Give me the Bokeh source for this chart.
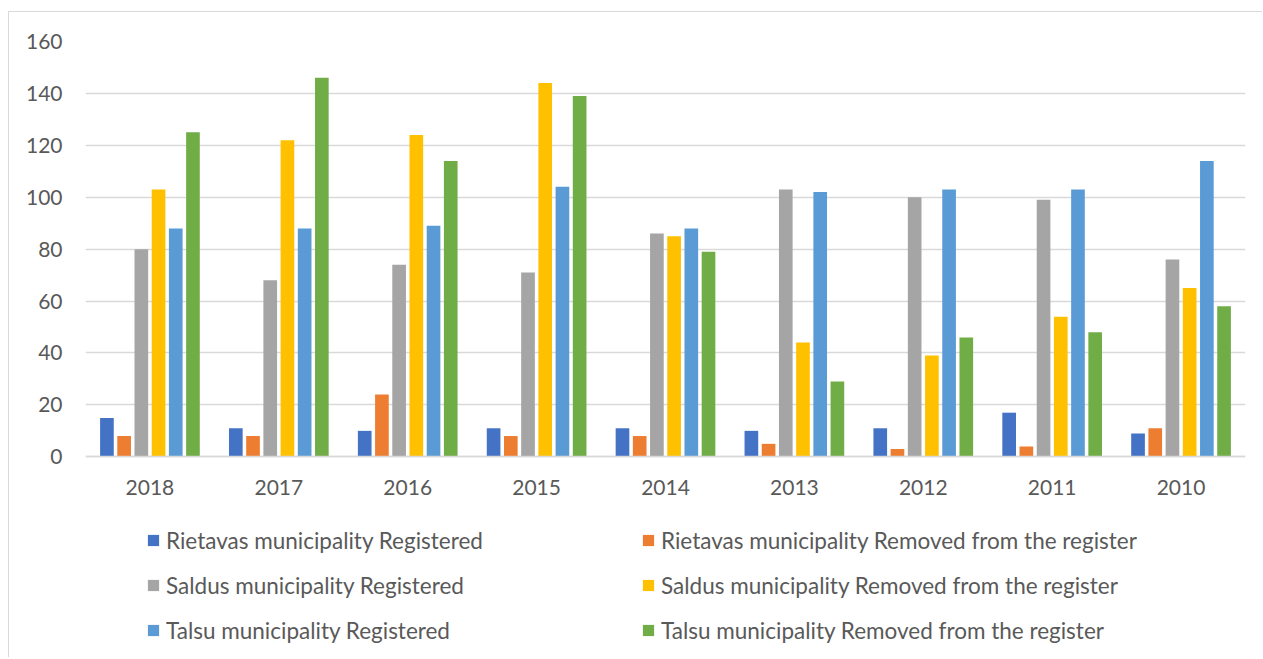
from bokeh.plotting import figure
from bokeh.models import ColumnDataSource, FactorRange, Legend, LegendItem, FixedTicker, Range1d
from bokeh.transform import dodge
from bokeh.embed import file_html
from bokeh.resources import INLINE

years = ["2018", "2017", "2016", "2015", "2014", "2013", "2012", "2011", "2010"]
rietavas_registered = [15, 11, 10, 11, 11, 10, 11, 17, 9]
rietavas_removed = [8, 8, 24, 8, 8, 5, 3, 4, 11]
saldus_registered = [80, 68, 74, 71, 86, 103, 100, 99, 76]
saldus_removed = [103, 122, 124, 144, 85, 44, 39, 54, 65]
talsu_registered = [88, 88, 89, 104, 88, 102, 103, 103, 114]
talsu_removed = [125, 146, 114, 139, 79, 29, 46, 48, 58]

series_names = [
    "Rietavas municipality Registered",
    "Rietavas municipality Removed from the register",
    "Saldus municipality Registered",
    "Saldus municipality Removed from the register",
    "Talsu municipality Registered",
    "Talsu municipality Removed from the register",
]
series_values = [rietavas_registered, rietavas_removed, saldus_registered,
                 saldus_removed, talsu_registered, talsu_removed]
colors = ["#4472C4", "#ED7D31", "#A5A5A5", "#FFC000", "#5B9BD5", "#70AD47"]
y_ticks = [0, 20, 40, 60, 80, 100, 120, 140, 160]

data = {"year": years}
for i, vals in enumerate(series_values):
    data[f"s{i}"] = vals
source = ColumnDataSource(data)

FONT = "Lato"
TXT = "#595959"
GRID = "#d9d9d9"

Y_BOTTOM = -77.7  # extra room below zero (layout only) for the legend

p = figure(x_range=FactorRange(*years), y_range=Range1d(Y_BOTTOM, 160),
           width=1254, height=646, output_backend="svg", toolbar_location=None,
           min_border_left=76, min_border_right=18, min_border_top=29, min_border_bottom=0)
p.margin = (11, 0, 0, 8)
p.styles = {"border-top": "1px solid #d9d9d9", "border-left": "1px solid #d9d9d9"}
p.outline_line_color = None
p.background_fill_color = "white"
p.border_fill_color = "white"

pitch = 0.1335
renderers = []
for i in range(6):
    r = p.vbar(x=dodge("year", (i - 2.5) * pitch, range=p.x_range), top=f"s{i}", width=0.106,
               source=source, fill_color=colors[i], line_color=None)
    renderers.append(r)

p.xgrid.grid_line_color = None
p.ygrid.grid_line_color = GRID
p.ygrid.grid_line_width = 1.3
p.yaxis.ticker = FixedTicker(ticks=y_ticks)

p.yaxis.axis_line_color = None
p.yaxis.major_tick_line_color = None
p.yaxis.minor_tick_line_color = None
p.yaxis.major_label_standoff = 17
p.yaxis.major_label_text_font = FONT
p.yaxis.major_label_text_font_size = "21px"
p.yaxis.major_label_text_color = TXT

p.xaxis.fixed_location = 0
p.xaxis.axis_line_color = GRID
p.xaxis.axis_line_width = 1.3
p.xaxis.major_tick_line_color = None
p.xaxis.minor_tick_line_color = None
p.xaxis.major_label_standoff = 17
p.xaxis.major_label_text_font = FONT
p.xaxis.major_label_text_font_size = "21px"
p.xaxis.major_label_text_color = TXT

def make_legend(idxs, x):
    lg = Legend(items=[LegendItem(label=series_names[i], renderers=[renderers[i]]) for i in idxs],
                location=(x, 13), orientation="vertical")
    lg.glyph_width = 14
    lg.glyph_height = 14
    lg.label_standoff = 6
    lg.label_height = 30
    lg.spacing = 15
    lg.padding = 0
    lg.margin = 0
    lg.border_line_color = None
    lg.background_fill_alpha = 0
    lg.label_text_font = FONT
    lg.label_text_font_size = "22.5px"
    lg.label_text_color = TXT
    return lg

p.add_layout(make_legend([0, 2, 4], 61), "center")
p.add_layout(make_legend([1, 3, 5], 556), "center")

open("out.html", "w").write(file_html(p, INLINE))
